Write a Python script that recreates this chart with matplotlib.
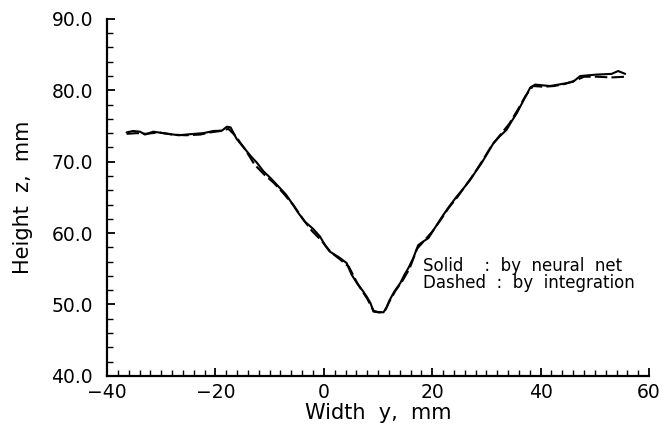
import numpy as np
import matplotlib
matplotlib.use('Agg')
import matplotlib.pyplot as plt
from matplotlib.ticker import MultipleLocator, FormatStrFormatter

# Solid : by neural net  (width y [mm], height z [mm])
solidY = [-36.4, -35.2, -33.9, -33.0, -31.5, -29.6, -26.8, -24.7, -22.2, -20.4,
          -18.8, -17.9, -17.2, -16.1, -14.8, -13.4, -12.4, -11.2, -9.7, -8.1,
          -7.0, -5.9, -4.7, -3.5, -2.0, -0.7, 0.3, 1.1, 2.8, 4.2,
          5.1, 6.1, 7.0, 7.9, 8.6, 9.15, 10.0, 11.0, 11.6, 12.2,
          13.0, 14.1, 14.9, 15.6, 16.5, 17.4, 18.3, 19.3, 20.3, 21.4,
          22.0, 23.2, 24.5, 25.7, 27.0, 28.0, 29.1, 30.2, 31.3, 32.5,
          33.7, 34.6, 35.6, 36.5, 37.4, 38.1, 39.0, 41.7, 43.3, 44.8,
          46.0, 47.3, 50.3, 53.1, 54.3, 55.6]
solidZ = [74.1, 74.3, 74.2, 73.8, 74.2, 74.0, 73.7, 73.85, 74.0, 74.3,
          74.35, 74.9, 74.8, 73.2, 72.0, 70.7, 69.9, 68.7, 67.6, 66.3,
          65.4, 64.2, 62.8, 61.6, 60.6, 59.5, 58.2, 57.4, 56.6, 55.8,
          54.2, 53.0, 52.1, 51.1, 50.2, 49.0, 48.9, 48.9, 49.6, 50.7,
          51.8, 53.0, 54.2, 55.1, 56.5, 58.3, 58.8, 59.3, 60.5, 61.8,
          62.5, 63.8, 65.1, 66.2, 67.45, 68.6, 69.8, 71.2, 72.6, 73.6,
          74.45, 75.6, 76.8, 78.1, 79.4, 80.4, 80.8, 80.6, 80.8, 81.0,
          81.2, 82.0, 82.2, 82.3, 82.7, 82.3]

# Dashed : by integration
dashedY = [-36.4, -34.5, -32.8, -30.5, -28.0, -25.5, -22.8, -21.0, -19.0, -17.6,
           -16.3, -14.5, -12.8, -11.0, -9.2, -7.5, -5.6, -3.8, -2.2, -0.5,
           1.3, 3.0, 4.6, 6.3, 8.0, 9.2, 10.2, 11.2, 12.0, 13.2,
           14.5, 15.8, 17.2, 18.6, 20.0, 21.6, 23.0, 24.6, 26.2, 27.8,
           29.4, 31.0, 32.6, 34.2, 35.8, 37.2, 38.6, 40.5, 42.5, 44.5,
           46.5, 48.0, 50.5, 53.0, 55.6]
dashedZ = [73.9, 74.0, 73.9, 74.1, 73.8, 73.7, 73.8, 74.1, 74.3, 74.6,
           73.6, 71.7, 69.6, 68.2, 67.0, 65.6, 63.9, 61.9, 60.3, 59.0,
           57.3, 56.3, 55.3, 52.8, 50.8, 49.1, 48.9, 49.0, 50.3, 51.9,
           53.3, 55.0, 57.8, 59.0, 60.2, 61.9, 63.5, 65.0, 66.7, 68.4,
           70.3, 72.3, 73.8, 75.3, 77.3, 79.2, 80.6, 80.5, 80.6, 80.9,
           81.4, 81.9, 81.9, 81.8, 81.9]

xTicks = [-40, -20, 0, 20, 40, 60]
yTicks = [40.0, 50.0, 60.0, 70.0, 80.0, 90.0]

fig = plt.figure(figsize=(6.65, 4.3), dpi=100)
ax = fig.add_axes([0.161, 0.126, 0.815, 0.830])

ax.plot(solidY, solidZ, color='black', lw=1.5, solid_capstyle='round')
ax.plot(dashedY, dashedZ, color='black', lw=1.5, dashes=(6, 2))

ax.set_xlim(-40, 60)
ax.set_ylim(40, 90)
ax.set_xticks(xTicks)
ax.set_yticks(yTicks)
ax.xaxis.set_minor_locator(MultipleLocator(2))
ax.yaxis.set_minor_locator(MultipleLocator(2))
ax.yaxis.set_major_formatter(FormatStrFormatter('%.1f'))

for s in ['top', 'right']:
    ax.spines[s].set_visible(False)
for s in ['left', 'bottom']:
    ax.spines[s].set_linewidth(1.6)

ax.tick_params(which='major', direction='in', length=6, width=1.3, labelsize=13.5, pad=5)
ax.tick_params(which='minor', direction='in', length=4, width=1.0)
ax.tick_params(axis='y', which='major', pad=10)

ax.set_xlabel('Width  y,  mm', fontsize=15, labelpad=1)
ax.set_ylabel('Height  z,  mm', fontsize=15, labelpad=13)

ax.text(18.3, 55.4, 'Solid    :  by  neural  net', fontsize=12, va='center')
ax.text(18.3, 53.0, 'Dashed  :  by  integration', fontsize=12, va='center')

plt.savefig('out.png', dpi=100)
